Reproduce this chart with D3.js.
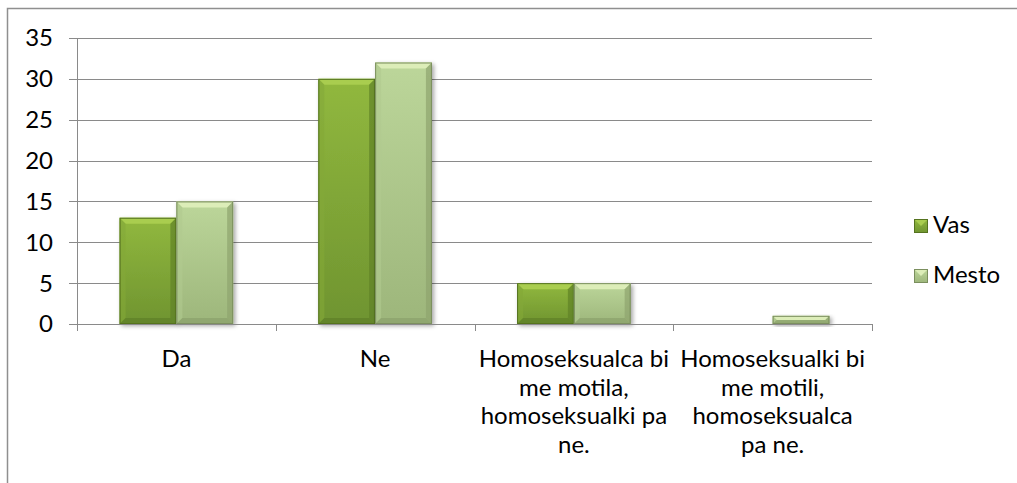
<!DOCTYPE html>
<html>
<head>
<meta charset="utf-8">
<script src="https://cdn.jsdelivr.net/npm/d3@7"></script>
<style>
  html, body { margin: 0; padding: 0; background: #fff; }
  svg { display: block; }
  text { font-family: Lato, "Open Sans", sans-serif; fill: #000; }
</style>
</head>
<body>
<svg id="chart" width="1017" height="483"></svg>
<script>
// Survey answers, two groups of respondents
const categories = [
  ["Da"],
  ["Ne"],
  ["Homoseksualca bi", "me motila,", "homoseksualki pa", "ne."],
  ["Homoseksualki bi", "me motili,", "homoseksualca", "pa ne."]
];
const seriesNames = ["Vas", "Mesto"];
const vasValues = [13, 30, 5, 0];
const mestoValues = [15, 32, 5, 1];
const yTicks = [0, 5, 10, 15, 20, 25, 30, 35];

const svg = d3.select("#chart");
const W = 1017, H = 483;
const plot = { left: 77, right: 872, top: 38, bottom: 324 };
const fontSize = "24px";

// chart frame (open at right and bottom)
svg.append("rect")
  .attr("x", 7.5).attr("y", 8.5)
  .attr("width", W + 20).attr("height", H + 20)
  .attr("fill", "#fff").attr("stroke", "#8f8f8f").attr("stroke-width", 1.5);

const catKeys = categories.map((c, i) => i);
const x0 = d3.scaleBand().domain(catKeys).range([plot.left, plot.right]).padding(0);
const x1 = d3.scaleBand().domain(seriesNames).range([0, x0.bandwidth()])
  .paddingInner(0).paddingOuter(0.75);
const y = d3.scaleLinear().domain([0, 35]).range([plot.bottom, plot.top]);

const defs = svg.append("defs");
const palette = {
  Vas:   { top: "#a9cd4f", main0: "#91b83e", main1: "#6f9430", left: "#83a838", right: "#5f8127", bottom: "#5b7b26", stroke: "#55731f" },
  Mesto: { top: "#dcedb8", main0: "#bcd69a", main1: "#9db67b", left: "#b0c98f", right: "#8ea46d", bottom: "#879c68", stroke: "#7b8f5e" }
};
seriesNames.forEach(s => {
  const g = defs.append("linearGradient").attr("id", "grad-" + s)
    .attr("x1", 0).attr("y1", 0).attr("x2", 0).attr("y2", 1);
  g.append("stop").attr("offset", 0).attr("stop-color", palette[s].main0);
  g.append("stop").attr("offset", 1).attr("stop-color", palette[s].main1);
});
const shadow = defs.append("filter").attr("id", "shadow")
  .attr("x", "-20%").attr("y", "-20%").attr("width", "150%").attr("height", "150%");
shadow.append("feDropShadow").attr("dx", 2).attr("dy", 2)
  .attr("stdDeviation", 2).attr("flood-color", "#000").attr("flood-opacity", 0.35);

// y tick marks and gridlines
const grid = svg.append("g");
grid.selectAll("line").data(yTicks).join("line")
  .attr("x1", plot.left - 8).attr("x2", plot.right)
  .attr("y1", d => Math.round(y(d)) + 0.5).attr("y2", d => Math.round(y(d)) + 0.5)
  .attr("stroke", "#8a8a8a").attr("stroke-width", 1);

// y axis line
svg.append("line")
  .attr("x1", plot.left + 0.5).attr("x2", plot.left + 0.5)
  .attr("y1", plot.top).attr("y2", plot.bottom + 7)
  .attr("stroke", "#8a8a8a");

// category boundary ticks
const bounds = catKeys.map(k => x0(k)).concat([plot.right]);
svg.append("g").selectAll("line").data(bounds.slice(1)).join("line")
  .attr("x1", d => Math.round(d) + 0.5).attr("x2", d => Math.round(d) + 0.5)
  .attr("y1", plot.bottom).attr("y2", plot.bottom + 7)
  .attr("stroke", "#8a8a8a");

// y tick labels
svg.append("g").selectAll("text").data(yTicks).join("text")
  .attr("x", 53).attr("y", d => y(d))
  .attr("dy", "0.35em").attr("text-anchor", "end")
  .style("font-size", fontSize)
  .text(d => d);

// bars with bevelled faces
function drawBar(g, xPos, w, val, s) {
  const yTop = y(val), h = plot.bottom - yTop;
  if (h <= 0) return;
  const p = palette[s];
  const b = Math.min(6, h / 2, w / 2);
  const bar = g.append("g").attr("filter", "url(#shadow)");
  bar.append("rect").attr("x", xPos).attr("y", yTop).attr("width", w).attr("height", h)
    .attr("fill", "url(#grad-" + s + ")");
  const poly = pts => pts.map(q => q.join(",")).join(" ");
  const x2 = xPos + w, y2 = yTop + h;
  bar.append("polygon").attr("points", poly([[xPos, yTop], [x2, yTop], [x2 - b, yTop + b], [xPos + b, yTop + b]])).attr("fill", p.top);
  bar.append("polygon").attr("points", poly([[xPos, yTop], [xPos + b, yTop + b], [xPos + b, y2 - b], [xPos, y2]])).attr("fill", p.left).attr("opacity", 0.6);
  bar.append("polygon").attr("points", poly([[x2, yTop], [x2, y2], [x2 - b, y2 - b], [x2 - b, yTop + b]])).attr("fill", p.right).attr("opacity", 0.7);
  bar.append("polygon").attr("points", poly([[xPos, y2], [x2, y2], [x2 - b, y2 - b], [xPos + b, y2 - b]])).attr("fill", p.bottom).attr("opacity", 0.6);
  bar.append("rect").attr("x", xPos + 0.5).attr("y", yTop + 0.5).attr("width", w - 1).attr("height", Math.max(0, h - 1))
    .attr("fill", "none").attr("stroke", p.stroke).attr("stroke-width", 1);
}

const barsG = svg.append("g");
catKeys.forEach(k => {
  drawBar(barsG, x0(k) + x1("Vas"), x1.bandwidth(), vasValues[k], "Vas");
  drawBar(barsG, x0(k) + x1("Mesto"), x1.bandwidth(), mestoValues[k], "Mesto");
});

// x axis line (over bars)
svg.append("line")
  .attr("x1", plot.left - 8).attr("x2", plot.right)
  .attr("y1", plot.bottom + 0.5).attr("y2", plot.bottom + 0.5)
  .attr("stroke", "#8a8a8a");

// category labels
const lab = svg.append("g");
catKeys.forEach(k => {
  const cx = x0(k) + x0.bandwidth() / 2;
  const t = lab.append("text").attr("text-anchor", "middle").style("font-size", fontSize);
  categories[k].forEach((line, i) => {
    t.append("tspan").attr("x", cx).attr("y", 367 + i * 28.5).text(line);
  });
});

// legend
const legend = svg.append("g");
seriesNames.forEach((s, i) => {
  const ly = 225 + i * 50;
  const p = palette[s];
  const lg = legend.append("g");
  const sz = 14, sx = 914, sy = ly - 6;
  lg.append("rect").attr("x", sx).attr("y", sy).attr("width", sz).attr("height", sz).attr("fill", "url(#grad-" + s + ")");
  lg.append("polygon").attr("points", `${sx},${sy} ${sx + sz},${sy} ${sx + sz / 2},${sy + sz / 2}`).attr("fill", p.top);
  lg.append("rect").attr("x", sx + 0.5).attr("y", sy + 0.5).attr("width", sz - 1).attr("height", sz - 1)
    .attr("fill", "none").attr("stroke", p.stroke);
  lg.append("text").attr("x", 933).attr("y", ly).attr("dy", "0.35em")
    .style("font-size", fontSize).text(s);
});
</script>
</body>
</html>
